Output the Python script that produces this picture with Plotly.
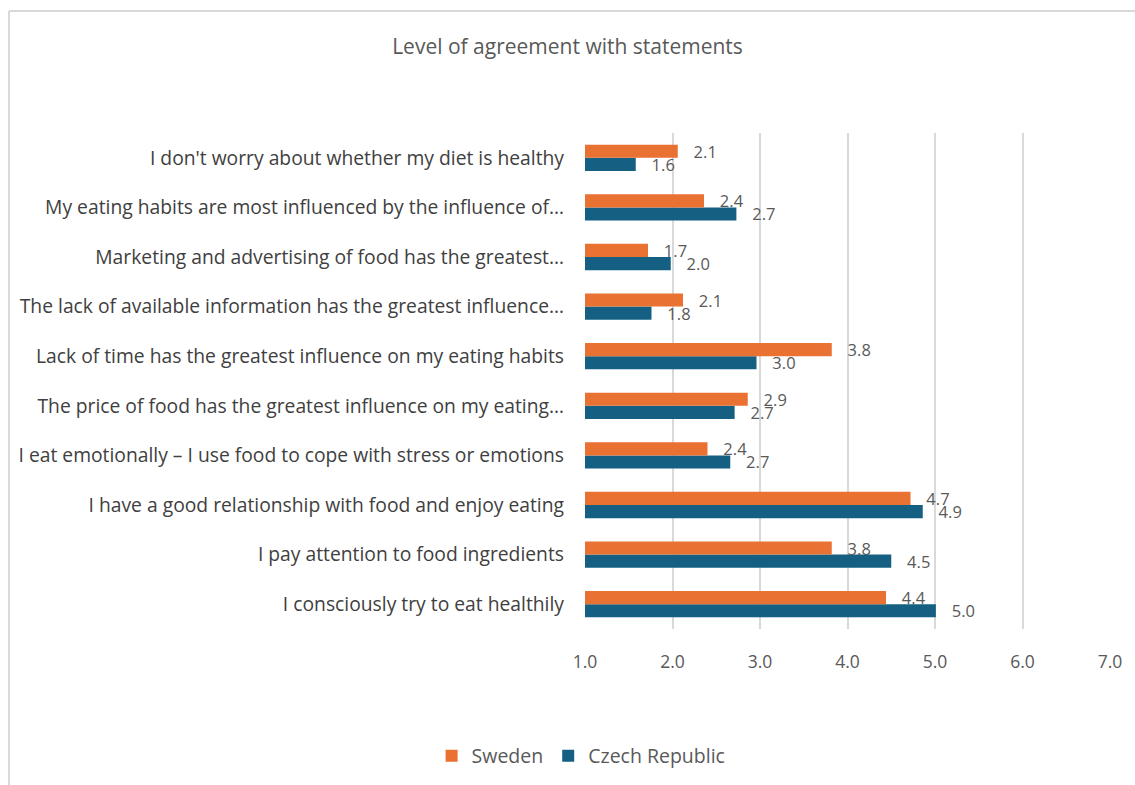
import plotly.graph_objects as go

# Statements, listed bottom-to-top as they appear on the category axis
statements = [
    "I consciously try to eat healthily",
    "I pay attention to food ingredients",
    "I have a good relationship with food and enjoy eating",
    "I eat emotionally – I use food to cope with stress or emotions",
    "The price of food has the greatest influence on my eating…",
    "Lack of time has the greatest influence on my eating habits",
    "The lack of available information has the greatest influence…",
    "Marketing and advertising of food has the greatest…",
    "My eating habits are most influenced by the influence of…",
    "I don't worry about whether my diet is healthy",
]

sweden = [4.44, 3.82, 4.72, 2.40, 2.86, 3.82, 2.12, 1.72, 2.36, 2.06]
czech = [5.01, 4.50, 4.86, 2.66, 2.71, 2.96, 1.76, 1.98, 2.73, 1.58]

x_ticks = [1, 2, 3, 4, 5, 6, 7]
x_tick_text = ["1.0", "2.0", "3.0", "4.0", "5.0", "6.0", "7.0"]

ORANGE = "#E97132"
BLUE = "#156082"
TEXT = "#595959"
GRID = "#D9D9D9"
FONT = "Open Sans, Liberation Sans, Arial, sans-serif"

W, H = 1135, 785
M_L, M_R, M_T, M_B = 585, 25, 133, 156

label_tpl = "\u00a0\u00a0\u00a0%{x:.1f}"

fig = go.Figure()
fig.add_trace(go.Bar(
    y=statements, x=czech, name="Czech Republic", orientation="h",
    marker=dict(color=BLUE, line=dict(width=0)),
    texttemplate=label_tpl, textposition="outside", constraintext="none",
    textfont=dict(size=16.5, color=TEXT, family=FONT), cliponaxis=False,
    legendrank=2,
))
fig.add_trace(go.Bar(
    y=statements, x=sweden, name="Sweden", orientation="h",
    marker=dict(color=ORANGE, line=dict(width=0)),
    texttemplate=label_tpl, textposition="outside", constraintext="none",
    textfont=dict(size=16.5, color=TEXT, family=FONT), cliponaxis=False,
    legendrank=1,
))

# light frame along the top and left edges of the chart area
pw = W - M_L - M_R
ph = H - M_T - M_B
def px_to_paper_x(px):
    return (px - M_L) / pw
def px_to_paper_y(py):
    return (H - M_B - py) / ph

frame_left, frame_top = 9, 11
fig.add_shape(type="line", xref="paper", yref="paper",
              x0=px_to_paper_x(frame_left), x1=px_to_paper_x(W),
              y0=px_to_paper_y(frame_top), y1=px_to_paper_y(frame_top),
              line=dict(color=GRID, width=2))
fig.add_shape(type="line", xref="paper", yref="paper",
              x0=px_to_paper_x(frame_left), x1=px_to_paper_x(frame_left),
              y0=px_to_paper_y(frame_top), y1=px_to_paper_y(H),
              line=dict(color=GRID, width=2))

fig.update_layout(
    width=W, height=H,
    margin=dict(l=M_L, r=M_R, t=M_T, b=M_B),
    paper_bgcolor="white", plot_bgcolor="white",
    barmode="group", bargap=0.47, bargroupgap=0,
    title=dict(text="Level of agreement with statements",
               x=0.5, xref="container", xanchor="center",
               y=1 - 47 / H, yref="container", yanchor="middle",
               font=dict(size=21, color=TEXT, family=FONT)),
    font=dict(family=FONT, color=TEXT),
    showlegend=True,
    legend=dict(orientation="h", x=0.512, xref="container", xanchor="center",
                y=1 - 756 / H, yref="container", yanchor="middle",
                font=dict(size=19.5, color=TEXT, family=FONT),
                itemwidth=30, traceorder="normal"),
    xaxis=dict(range=[1, 7], tickvals=x_ticks, ticktext=x_tick_text,
               showgrid=True, gridcolor=GRID, gridwidth=2,
               zeroline=False, showline=False, ticks="",
               tickfont=dict(size=17.5, color=TEXT, family=FONT),
               ticklabelstandoff=20),
    yaxis=dict(categoryorder="array", categoryarray=statements,
               showgrid=False, zeroline=False, showline=False, ticks="",
               tickfont=dict(size=19.3, color="#404040", family=FONT),
               ticklabelstandoff=20),
)

fig.write_html("out.html")
